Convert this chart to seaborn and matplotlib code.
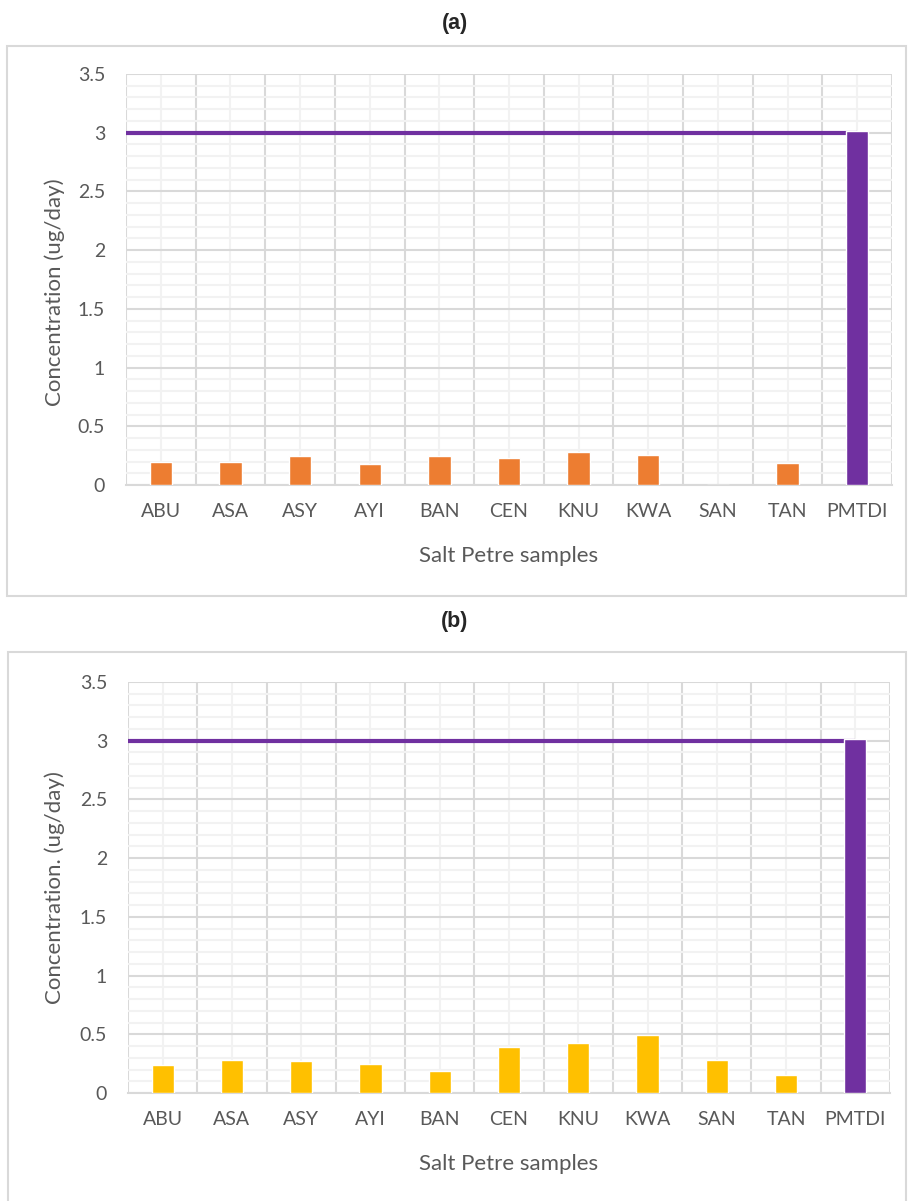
import numpy as np
import matplotlib
matplotlib.use("Agg")
import matplotlib.pyplot as plt
import seaborn as sns
from matplotlib.patches import Rectangle

samples = ["ABU", "ASA", "ASY", "AYI", "BAN", "CEN", "KNU", "KWA", "SAN", "TAN", "PMTDI"]
conc_a = [0.20, 0.20, 0.25, 0.175, 0.245, 0.23, 0.285, 0.255, 0.0, 0.19, 3.013]
conc_b = [0.24, 0.285, 0.27, 0.245, 0.19, 0.39, 0.43, 0.495, 0.28, 0.155, 3.013]
pmtdi_limit = 3.0
ylabels = ["Concentration (ug/day)", "Concentration. (ug/day)"]
titles = ["(a)", "(b)"]
bar_colors = ["#ED7D31", "#FFC000"]
limit_color = "#7030A0"

sns.set_theme(style="white")
plt.rcParams["font.family"] = ["Lato", "DejaVu Sans"]

W, H = 908, 1201
fig = plt.figure(figsize=(W / 100, H / 100), dpi=100)

# panel boxes in pixels: plot area (left, top, right, bottom), outer frame, title y
panels = [
    dict(plot=(126, 74, 892, 485), frame=(7, 46, 906, 596), title_y=24, ylab_y=0.47),
    dict(plot=(128, 682, 890, 1093), frame=(8, 652, 906, 1215), title_y=621, ylab_y=0.5),
]


def draw_panel(spec, values, bar_color, ylabel, title):
    fl, ft, fr, fb = spec["frame"]
    fig.patches.append(Rectangle((fl / W, 1 - fb / H), (fr - fl) / W, (fb - ft) / H,
                                 transform=fig.transFigure, facecolor="none",
                                 edgecolor="#D9D9D9", lw=1.5, zorder=-1))
    fig.text(455 / W, 1 - spec["title_y"] / H, title, ha="center", va="center",
             fontsize=15.5, fontweight="bold", family="Liberation Sans")
    l, t, r, b = spec["plot"]
    ax = fig.add_axes([l / W, 1 - b / H, (r - l) / W, (b - t) / H])
    palette = {s: bar_color for s in samples}
    palette["PMTDI"] = limit_color
    sns.barplot(x=samples, y=values, hue=samples, palette=palette, legend=False,
                width=0.32, saturation=1, ax=ax, zorder=3)
    n = len(samples)
    ax.plot([-0.5, n - 1], [pmtdi_limit, pmtdi_limit], color=limit_color, lw=3,
            solid_capstyle="butt", zorder=2)
    ax.set_xlim(-0.5, n - 0.5)
    ax.set_ylim(0, 3.5)
    ax.set_yticks(np.arange(0, 3.51, 0.5))
    ax.set_yticklabels(["0", "0.5", "1", "1.5", "2", "2.5", "3", "3.5"])
    ax.set_yticks(np.arange(0, 3.51, 0.1), minor=True)
    ax.set_xticks(np.arange(-0.5, n), minor=True)
    ax.set_axisbelow(True)
    ax.grid(axis="x", which="major", color="#F2F2F2", lw=1.5)
    ax.grid(axis="x", which="minor", color="#D9D9D9", lw=1.5)
    ax.grid(axis="y", which="major", color="#D9D9D9", lw=1.5)
    ax.grid(axis="y", which="minor", color="#F2F2F2", lw=1.5)
    for side in ["top", "left", "right"]:
        ax.spines[side].set_visible(False)
    ax.spines["bottom"].set_color("#D9D9D9")
    ax.spines["bottom"].set_linewidth(1.5)
    ax.tick_params(which="both", length=0, labelsize=14, labelcolor="#595959")
    ax.tick_params(axis="x", pad=13)
    ax.tick_params(axis="y", pad=15)
    ax.set_xlabel("Salt Petre samples", fontsize=16, color="#595959")
    ax.set_ylabel(ylabel, fontsize=16, color="#595959", va="center")
    ax.xaxis.set_label_coords(0.5, -0.148)
    ax.yaxis.set_label_coords((55 - l) / (r - l), spec["ylab_y"])
    ax.set_facecolor("none")
    return ax


for spec, vals, col, yl, tt in zip(panels, [conc_a, conc_b], bar_colors, ylabels, titles):
    draw_panel(spec, vals, col, yl, tt)

fig.savefig("out.png", dpi=100, facecolor="white")
